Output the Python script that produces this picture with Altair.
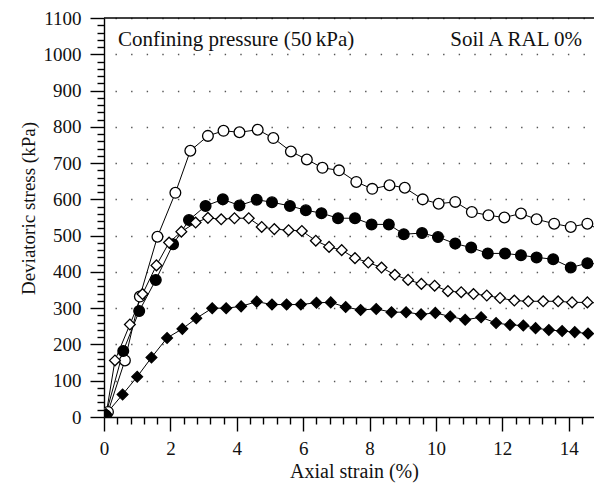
import altair as alt
import pandas as pd

# ---- data ----
oc_x = [0.12, 0.63, 1.08, 1.61, 2.15, 2.6, 3.13, 3.6, 4.08, 4.63, 5.1, 5.63, 6.11, 6.58, 7.08,
        7.6, 8.08, 8.6, 9.06, 9.6, 10.08, 10.58, 11.08, 11.58, 12.06, 12.56, 13.03, 13.56, 14.06, 14.56]
oc_y = [14, 156, 332, 497, 618, 734, 775, 789, 785, 792, 769, 732, 710, 687, 680,
        648, 629, 639, 632, 600, 588, 593, 565, 556, 550, 561, 545, 533, 524, 533]
oc_end = (14.93, 516)

fc_x = [0.05, 0.58, 1.06, 1.56, 2.08, 2.56, 3.06, 3.58, 4.08, 4.6, 5.06, 5.6, 6.08, 6.55, 7.05,
        7.56, 8.06, 8.58, 9.03, 9.58, 10.06, 10.58, 11.06, 11.56, 12.08, 12.56, 13.03, 13.53, 14.06, 14.56]
fc_y = [5, 182, 292, 378, 476, 543, 582, 600, 583, 599, 592, 582, 570, 562, 548,
        548, 531, 531, 504, 507, 496, 478, 467, 451, 451, 446, 440, 435, 412, 424]
fc_end = (14.93, 421)

od_x = [0.06, 0.33, 0.78, 1.16, 1.58, 1.96, 2.33, 2.76, 3.13, 3.53, 3.93, 4.36, 4.75, 5.13, 5.56,
        5.96, 6.38, 6.78, 7.16, 7.56, 7.96, 8.36, 8.76, 9.16, 9.56, 9.96, 10.36, 10.76, 11.13,
        11.53, 11.93, 12.36, 12.78, 13.23, 13.68, 14.1, 14.56]
od_y = [5, 156, 255, 339, 418, 481, 511, 536, 549, 545, 548, 548, 524, 518, 515,
        513, 486, 469, 460, 438, 426, 412, 392, 378, 367, 362, 347, 344, 339,
        335, 328, 321, 319, 319, 319, 316, 316]
od_end = (14.93, 314)

fd_x = [0.06, 0.56, 1.0, 1.43, 1.9, 2.36, 2.78, 3.26, 3.68, 4.13, 4.6, 5.06, 5.5, 5.93, 6.4,
        6.83, 7.28, 7.73, 8.2, 8.66, 9.1, 9.55, 9.98, 10.43, 10.88, 11.36, 11.81, 12.23, 12.63,
        13.0, 13.4, 13.8, 14.18, 14.58]
fd_y = [8, 62, 111, 164, 218, 243, 272, 300, 300, 305, 318, 310, 310, 310, 315,
        316, 303, 295, 298, 289, 289, 283, 287, 277, 268, 275, 259, 254, 252,
        245, 240, 237, 234, 230]

series = ["open circle", "filled circle", "open diamond", "filled diamond"]
shapes = ["circle", "circle", "diamond", "diamond"]
fills = ["white", "black", "white", "black"]
sizes = [115, 115, 160, 170]

y_ticks = list(range(0, 1101, 20))
x_ticks = [round(0.4 * k, 1) for k in range(37)]

# ---- build tables ----
pts_rows, line_rows = [], []
for name, xs, ys, end in [(series[0], oc_x, oc_y, oc_end), (series[1], fc_x, fc_y, fc_end),
                          (series[2], od_x, od_y, od_end), (series[3], fd_x, fd_y, None)]:
    for x, y in zip(xs, ys):
        pts_rows.append({"series": name, "x": x, "y": y})
        line_rows.append({"series": name, "x": x, "y": y})
    if end is not None:
        line_rows.append({"series": name, "x": end[0], "y": end[1]})
df_pts = pd.DataFrame(pts_rows)
df_line = pd.DataFrame(line_rows)

W, H = 490, 399
FONT = "Liberation Serif"

x_enc = alt.X("x:Q", scale=alt.Scale(domain=[0, 14.76], nice=False, zero=False),
              axis=alt.Axis(values=x_ticks, tickCount=60, title="Axial strain (%)",
                            labelExpr="abs(datum.value % 2) < 0.001 ? format(datum.value, 'd') : ''",
                            labelOverlap=False, labelFlush=False,
                            tickSize={"condition": {"test": "abs(datum.value % 2) < 0.001", "value": 14}, "value": 7},
                            grid=False, labelPadding=8, titlePadding=3, titleFontSize=20,
                            titleX=250))
y_enc = alt.Y("y:Q", scale=alt.Scale(domain=[0, 1100], nice=False),
              axis=alt.Axis(values=y_ticks, tickCount=80, title="Deviatoric stress (kPa)",
                            labelExpr="datum.value % 100 == 0 ? format(datum.value, 'd') : ''",
                            labelOverlap=False, labelFlush=False,
                            tickSize={"condition": {"test": "datum.value % 100 == 0", "value": 14}, "value": 7},
                            grid=True, gridDash=[1.4, 14.2], gridDashOffset=4.6,
                            gridColor="#555", gridWidth=1.4,
                            gridOpacity={"condition": {"test": "datum.value % 100 == 0 && datum.value > 0", "value": 1}, "value": 0},
                            labelPadding=9, titlePadding=5, titleY=190))

lines = alt.Chart(df_line).mark_line(color="black", strokeWidth=1, clip=True).encode(
    x=x_enc, y=y_enc, detail="series:N", order="x:Q")

points = alt.Chart(df_pts).mark_point(filled=True, stroke="black", strokeWidth=1.3,
                                      opacity=1, clip=True).encode(
    x=x_enc, y=y_enc,
    shape=alt.Shape("series:N", scale=alt.Scale(domain=series, range=shapes), legend=None),
    fill=alt.Fill("series:N", scale=alt.Scale(domain=series, range=fills), legend=None),
    size=alt.Size("series:N", scale=alt.Scale(domain=series, range=sizes), legend=None),
)

top = alt.Chart(pd.DataFrame({"a": [0]})).mark_rule(color="black", strokeWidth=1.3).encode(
    x=alt.value(0), x2=alt.value(W), y=alt.value(0))

txt1 = alt.Chart(pd.DataFrame({"t": ["Confining pressure (50\u2009kPa)"]})).mark_text(
    align="left", baseline="alphabetic", font=FONT, fontSize=21, color="#111").encode(
    text="t:N", x=alt.value(14), y=alt.value(28))
txt2 = alt.Chart(pd.DataFrame({"t": ["Soil A RAL 0%"]})).mark_text(
    align="right", baseline="alphabetic", font=FONT, fontSize=21, color="#111").encode(
    text="t:N", x=alt.value(478), y=alt.value(28))

chart = alt.layer(lines, points, top, txt1, txt2).properties(
    width=W, height=H,
    autosize=alt.AutoSizeParams(type="none"),
    padding={"left": 96, "top": 10, "right": 0, "bottom": 67},
).configure_view(strokeWidth=0).configure_axis(
    labelFont=FONT, titleFont=FONT, labelFontSize=19, titleFontSize=19,
    titleFontWeight="normal", labelColor="#111", titleColor="#111",
    domainColor="black", domainWidth=1.4, tickColor="black", tickWidth=1.4,
)

chart.save("out.html", embed_options={"renderer": "svg", "actions": False})
